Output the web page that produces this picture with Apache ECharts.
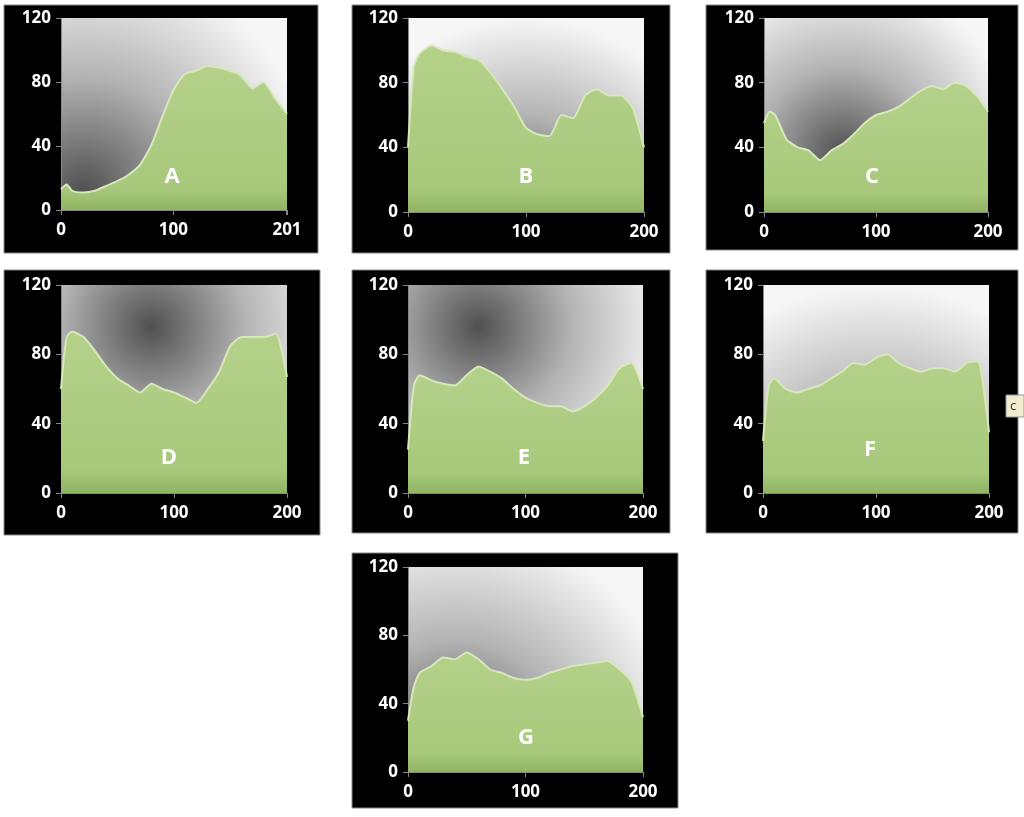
<!DOCTYPE html>
<html><head><meta charset="utf-8">
<script src="https://cdn.jsdelivr.net/npm/echarts@6/dist/echarts.min.js"></script>
<style>html,body{margin:0;background:#fff}#c{width:1024px;height:817px}</style>
</head><body><div id="c"></div>
<script>
var xs = [0, 5, 10, 20, 30, 40, 50, 60, 70, 80, 90, 100, 110, 120, 130, 140, 150, 160, 170, 180, 190, 200];
var names = ['A', 'B', 'C', 'D', 'E', 'F', 'G'];
var valA = [13, 16, 12, 11, 12, 15, 18, 22, 28, 40, 58, 75, 85, 87, 90, 89, 87, 84, 76, 80, 70, 60];
var valB = [40, 90, 98, 103, 100, 99, 96, 94, 86, 76, 65, 52, 48, 47, 60, 58, 72, 76, 72, 72, 65, 40];
var valC = [55, 62, 60, 45, 40, 38, 32, 38, 42, 48, 55, 60, 62, 65, 70, 75, 78, 76, 80, 78, 72, 62];
var valD = [60, 90, 93, 90, 82, 73, 66, 62, 58, 63, 60, 58, 55, 52, 60, 70, 85, 90, 90, 90, 92, 67];
var valE = [25, 62, 68, 65, 63, 62, 68, 73, 70, 66, 60, 55, 52, 50, 50, 47, 50, 55, 62, 72, 75, 60];
var valF = [30, 62, 66, 60, 58, 60, 62, 66, 70, 75, 74, 78, 80, 75, 72, 70, 72, 72, 70, 75, 76, 35];
var valG = [30, 50, 58, 62, 67, 66, 70, 66, 60, 58, 55, 54, 55, 58, 60, 62, 63, 64, 65, 60, 53, 32];
var allVals = [valA, valB, valC, valD, valE, valF, valG];
var xMax = [201, 200, 200, 200, 200, 200, 200];

var grids = [
  {left: 61, top: 18, width: 226, height: 192},
  {left: 408, top: 18, width: 236, height: 194},
  {left: 764, top: 18, width: 224, height: 194},
  {left: 61, top: 285, width: 226, height: 208},
  {left: 408, top: 285, width: 235, height: 208},
  {left: 763, top: 285, width: 226, height: 208},
  {left: 408, top: 567, width: 235, height: 205}
];
var boxes = [[4,5,314,248],[352,5,318,248],[706,5,312,245],[4,270,316,265],[352,270,318,263],[706,270,312,263],[352,553,326,255]];
var letterPos = [[172,177],[526,177],[872,177],[169,458],[524,458],[870,450],[526,738]];
// background shading: radial centre (x,y) and radius, per panel
var shade = [[0.1,0.9,1.2],[0.5,1.0,1.0],[0.35,0.7,0.9],[0.4,0.2,0.9],[0.3,0.2,0.9],[0.5,1.1,1.1],[0.2,0.9,1.1]];

function bg(s) {
  return new echarts.graphic.RadialGradient(s[0], s[1], s[2], [
    {offset: 0, color: '#505050'}, {offset: 0.5, color: '#b4b4b4'}, {offset: 1, color: '#f6f6f6'}
  ]);
}

var option = {
  backgroundColor: '#fff',
  animation: false,
  graphic: [],
  grid: [], xAxis: [], yAxis: [], series: []
};
boxes.forEach(function (b) {
  option.graphic.push({type: 'rect', z: -10, shape: {x: b[0], y: b[1], width: b[2], height: b[3]},
    style: {fill: '#000', stroke: '#888', lineWidth: 1}});
});
letterPos.forEach(function (p, i) {
  option.graphic.push({type: 'text', z: 100, x: p[0], y: p[1],
    style: {text: names[i], fill: '#fff', font: 'bold 22px "Open Sans"', align: 'center', verticalAlign: 'middle'}});
});
option.graphic.push({type: 'rect', shape: {x: 1006, y: 395, width: 18, height: 22}, style: {fill: '#f2ecd0', stroke: '#999'}});
option.graphic.push({type: 'text', x: 1010, y: 406, style: {text: 'c', fill: '#333', font: '13px "Open Sans"', verticalAlign: 'middle'}});

var lab = {color: '#fff', fontWeight: 'bold', fontSize: 17, fontFamily: 'Open Sans'};
grids.forEach(function (g, i) {
  option.grid.push(Object.assign({show: true, borderWidth: 0, backgroundColor: bg(shade[i])}, g));
  var ticks = [0, 100, xMax[i]];
  option.xAxis.push({type: 'value', gridIndex: i, min: 0, max: xMax[i], interval: 100,
    splitLine: {show: false}, axisLine: {lineStyle: {color: '#888'}}, axisTick: {lineStyle: {color: '#888'}},
    axisLabel: Object.assign({margin: 12, showMaxLabel: true,
      customValues: ticks}, lab)});
  option.yAxis.push({type: 'value', gridIndex: i, min: 0, max: 120, interval: 40,
    splitLine: {show: false}, axisLine: {show: true, lineStyle: {color: '#888'}},
    axisTick: {show: true, lineStyle: {color: '#888'}}, axisLabel: Object.assign({margin: 10}, lab)});
  option.series.push({type: 'line', xAxisIndex: i, yAxisIndex: i, symbol: 'none', smooth: 0.2,
    data: xs.map(function (x, j) { return [x === 200 ? xMax[i] : x, allVals[i][j]]; }),
    lineStyle: {color: '#d6e8b6', width: 2},
    areaStyle: {opacity: 1, color: new echarts.graphic.LinearGradient(0, 0, 0, 1, [
      {offset: 0, color: '#b4d18a'}, {offset: 0.85, color: '#a8c97c'}, {offset: 1, color: '#8fb463'}])}});
});

var chart = echarts.init(document.getElementById('c'));
chart.setOption(option);
</script></body></html>
